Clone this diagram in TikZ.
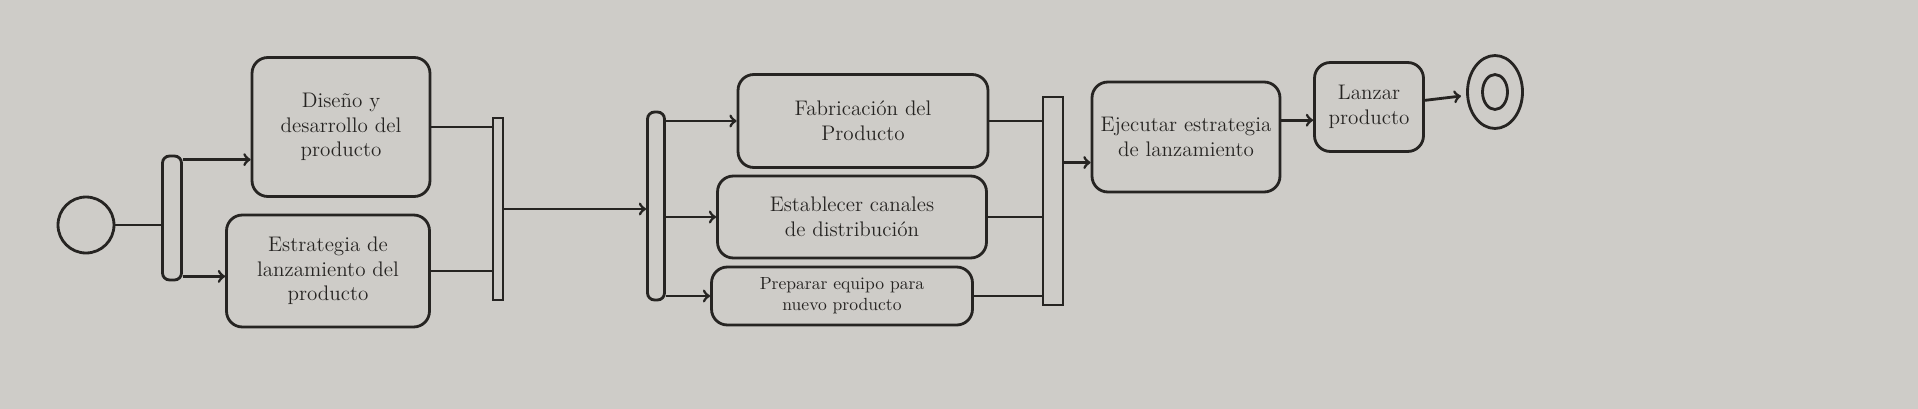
\documentclass[tikz,border=0pt]{standalone}
\usepackage{tikz}
\usetikzlibrary{shapes.geometric}
\usetikzlibrary{arrows}

\definecolor{fondo}{RGB}{206,204,200}
\definecolor{tinta}{RGB}{38,36,34}

\begin{document}
\begin{tikzpicture}[x=0.02cm,y=-0.02cm,line width=1.6pt,draw=tinta,text=tinta]
	\tikzstyle{activity}=[draw,rounded corners=9pt,align=center,inner sep=3pt,font=\large]
	\tikzstyle{forkbar}=[draw,rounded corners=4pt,inner sep=0pt]
	\tikzstyle{joinbar}=[draw,inner sep=0pt]
	\tikzstyle{startnode}=[draw,circle,minimum size=1.12cm,inner sep=0pt]
	\tikzstyle{endnode}=[draw,ellipse,inner sep=0pt]

	\fill[fondo] (0,0) rectangle (1918,409);

	\node[startnode] (inicio) at (86,225) {};
	\node[forkbar,minimum width=0.38cm,minimum height=2.48cm] (fork1) at (172,218) {};
	\node[activity,minimum width=3.56cm,minimum height=2.78cm] (diseno) at (341,127) {Diseño y\\desarrollo del\\producto};
	\node[activity,minimum width=4.06cm,minimum height=2.24cm] (estrategia) at (328,271) {Estrategia de\\lanzamiento del\\producto};
	\node[joinbar,minimum width=0.2cm,minimum height=3.64cm] (join1) at (498,209) {};

	\node[forkbar,minimum width=0.34cm,minimum height=3.76cm] (fork2) at (656,206) {};
	\node[activity,minimum width=5cm,minimum height=1.86cm] (fabricacion) at (863,121) {Fabricación del\\Producto};
	\node[activity,minimum width=5.38cm,minimum height=1.64cm] (canales) at (852,217) {Establecer canales\\de distribución};
	\node[activity,minimum width=5.22cm,minimum height=1.16cm,font=\normalsize] (equipo) at (842,296) {Preparar equipo para\\nuevo producto};
	\node[joinbar,minimum width=0.4cm,minimum height=4.16cm] (join2) at (1053,201) {};

	\node[activity,minimum width=3.76cm,minimum height=2.2cm] (ejecutar) at (1186,137) {Ejecutar estrategia\\de lanzamiento};
	\node[activity,minimum width=2.18cm,minimum height=1.78cm] (lanzar) at (1369,107) {Lanzar\\producto};
	\node[endnode,minimum width=1.1cm,minimum height=1.46cm] (fin) at (1495,92) {};
	\node[endnode,minimum width=0.5cm,minimum height=0.7cm] (fincentro) at (fin) {};

	% fork 1
	\coordinate (f1a) at ([yshift=-0.1cm]fork1.north east);
	\coordinate (f1b) at ([yshift=0.1cm]fork1.south east);
	\draw (inicio.east) -- (inicio.east -| fork1.west);
	\draw[->] (f1a) -- (f1a -| diseno.west);
	\draw[->] (f1b) -- (f1b -| estrategia.west);
	\draw (diseno.east) -- (diseno.east -| join1.west);
	\draw (estrategia.east) -- (estrategia.east -| join1.west);
	\draw[->] (join1.east) -- (join1.east -| fork2.west);

	% fork 2
	\foreach \n in {fabricacion,canales,equipo} {
		\draw[->] (fork2.east |- \n.west) -- (\n.west);
		\draw (\n.east) -- (\n.east -| join2.west);
	}

	\draw[->] (join2.east |- ejecutar.195) -- (ejecutar.195);
	\draw[->] (ejecutar.10) -- (ejecutar.10 -| lanzar.west);
	\draw[->,shorten >=3pt] (lanzar) -- (fin);
\end{tikzpicture}
\end{document}
